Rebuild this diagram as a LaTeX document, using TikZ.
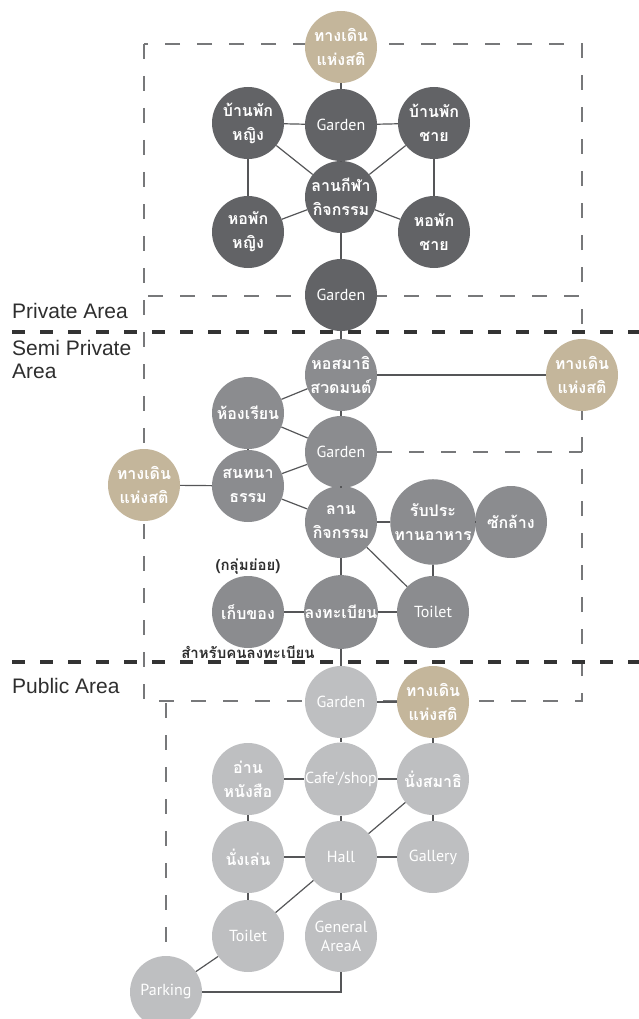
\documentclass[tikz,border=0pt]{standalone}
\usepackage{fontspec}
\setmainfont{Liberation Sans}
\newfontfamily\thaifont[Script=Thai]{Loma}
\newfontfamily\latinfont{PT Sans}
\definecolor{privgray}{HTML}{626366}
\definecolor{semigray}{HTML}{8B8C8F}
\definecolor{pubgray}{HTML}{BEBFC1}
\definecolor{walkbeige}{HTML}{C4B69B}
\definecolor{linkgray}{HTML}{555658}
\definecolor{zonegray}{HTML}{77787A}
\definecolor{divgray}{HTML}{333333}
\definecolor{labelgray}{HTML}{2E2E2E}
\begin{document}
\begin{tikzpicture}[x=1pt, y=-1pt,
    spot/.style={circle, minimum size=72pt, inner sep=0pt, text=white, align=center,
        font=\thaifont\bfseries\fontsize{16}{24}\selectfont},
    latin/.style={font=\latinfont\fontsize{16}{19}\selectfont},
    privspot/.style={spot, fill=privgray},
    semispot/.style={spot, fill=semigray},
    pubspot/.style={spot, fill=pubgray},
    walkspot/.style={spot, fill=walkbeige},
    link/.style={draw=linkgray, line width=1.2pt},
    zoneline/.style={draw=zonegray, line width=1.2pt, dash pattern=on 15pt off 17pt},
    divider/.style={draw=divgray, line width=4pt, dash pattern=on 13pt off 15pt},
    zonelabel/.style={anchor=west, align=left, inner sep=0pt, text=labelgray,
        font=\fontsize{21}{23}\selectfont},
    note/.style={inner sep=0pt, text=labelgray, font=\thaifont\bfseries\fontsize{15}{17}\selectfont}]

    \useasboundingbox (0,0) rectangle (639,1019);

    % zones
    \draw[zoneline] (144,44) rectangle (582,296);
    \draw[zoneline] (144,300) -- (144,701) -- (582,701) -- (582,300);
    \draw[divider] (12,332) -- (639,332);
    \draw[divider] (12,662) -- (639,662);

    \node[zonelabel] (privLabel) at (12,311) {Private Area};
    \node[zonelabel] (semiLabel) at (12,359) {Semi Private\\Area};
    \node[zonelabel] (pubLabel) at (12,686) {Public Area};

    % Private Area
    \node[walkspot] (walkTop) at (341,47) {ทางเดิน\\แห่งสติ};
    \node[privspot, latin] (gardenTop) at (341,125) {Garden};
    \node[privspot] (houseF) at (248,123) {บ้านพัก\\หญิง};
    \node[privspot] (houseM) at (434,123) {บ้านพัก\\ชาย};
    \node[privspot] (sportYard) at (341,197) {ลานกีฬา\\กิจกรรม};
    \node[privspot] (dormF) at (248,232) {หอพัก\\หญิง};
    \node[privspot] (dormM) at (434,232) {หอพัก\\ชาย};
    \node[privspot, latin] (gardenPriv) at (341,295) {Garden};

    \foreach \a/\b in {walkTop/gardenTop, houseF/gardenTop, gardenTop/houseM,
        gardenTop/sportYard, houseF/sportYard, houseM/sportYard, houseF/dormF,
        houseM/dormM, dormF/sportYard, dormM/sportYard, sportYard/gardenPriv}
        \draw[link] (\a) -- (\b);

    % Semi Private Area
    \node[semispot] (chantHall) at (341,375) {หอสมาธิ\\สวดมนต์};
    \node[walkspot] (walkRight) at (582,375) {ทางเดิน\\แห่งสติ};
    \node[semispot] (classRoom) at (248,413) {ห้องเรียน};
    \node[semispot, latin] (gardenSemi) at (341,452) {Garden};
    \node[walkspot] (walkLeft) at (144,485) {ทางเดิน\\แห่งสติ};
    \node[semispot] (dharmaTalk) at (248,486) {สนทนา\\ธรรม};
    \node[semispot] (activityYard) at (341,522) {ลาน\\กิจกรรม};
    \node[semispot] (foodHall) at (433,522) {รับประ\\ทานอาหาร};
    \node[semispot] (washRoom) at (511,522) {ซักล้าง};
    \node[semispot] (storeRoom) at (248,612) {เก็บของ};
    \node[semispot] (regDesk) at (341,612) {ลงทะเบียน};
    \node[semispot, latin] (toiletSemi) at (433,612) {Toilet};
    \node[note] (groupNote) at (248,567) {(กลุ่มย่อย)};
    \node[note] (regNote) at (248,652) {สำหรับคนลงทะเบียน};

    \draw[zoneline] (gardenSemi.east) -- (582,452);
    \foreach \a/\b in {gardenPriv/chantHall, chantHall/walkRight, chantHall/classRoom,
        chantHall/gardenSemi, classRoom/gardenSemi, classRoom/dharmaTalk,
        dharmaTalk/gardenSemi, walkLeft/dharmaTalk, dharmaTalk/activityYard,
        gardenSemi/activityYard, activityYard/foodHall, foodHall/washRoom,
        foodHall/toiletSemi, activityYard/toiletSemi, activityYard/regDesk,
        storeRoom/regDesk, regDesk/toiletSemi}
        \draw[link] (\a) -- (\b);

    % Public Area
    \node[pubspot, latin] (gardenPub) at (341,702) {Garden};
    \node[walkspot] (walkPub) at (433,702) {ทางเดิน\\แห่งสติ};
    \node[pubspot] (readRoom) at (248,779) {อ่าน\\หนังสือ};
    \node[pubspot, latin] (cafeShop) at (341,779) {Cafe'/shop};
    \node[pubspot] (sitMed) at (433,779) {นั่งสมาธิ};
    \node[pubspot] (sitRelax) at (248,857) {นั่งเล่น};
    \node[pubspot, latin] (mainHall) at (341,857) {Hall};
    \node[pubspot, latin] (galleryRoom) at (433,857) {Gallery};
    \node[pubspot, latin] (toiletPub) at (248,936) {Toilet};
    \node[pubspot, latin] (generalArea) at (341,936) {General\\AreaA};
    \node[pubspot, latin] (parkingLot) at (166,992) {Parking};

    \draw[zoneline] (166,703) -- (parkingLot.north);
    \foreach \a/\b in {regDesk/gardenPub, gardenPub/walkPub, gardenPub/cafeShop,
        walkPub/sitMed, readRoom/cafeShop, cafeShop/sitMed, readRoom/sitRelax,
        cafeShop/mainHall, sitMed/galleryRoom, sitMed/mainHall, sitRelax/mainHall,
        mainHall/galleryRoom, sitRelax/toiletPub, mainHall/toiletPub,
        mainHall/generalArea, toiletPub/parkingLot}
        \draw[link] (\a) -- (\b);
    \draw[link] (parkingLot) -| (generalArea);
\end{tikzpicture}
\end{document}
